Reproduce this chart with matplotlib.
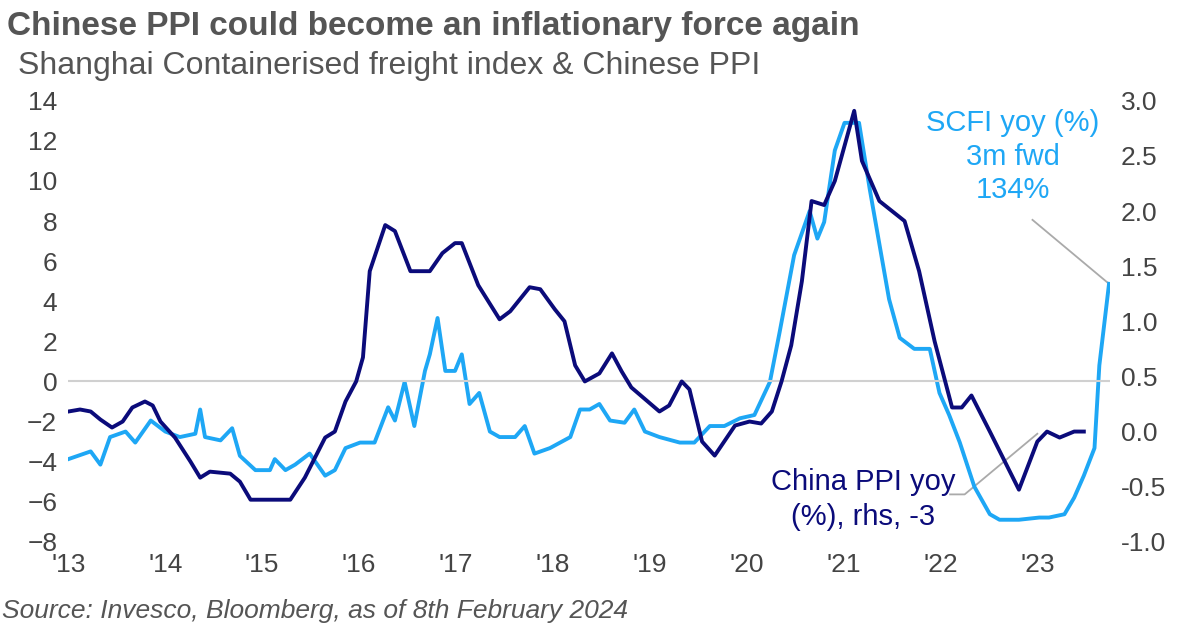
import matplotlib; matplotlib.use('Agg')
import matplotlib.pyplot as plt

C_DARK = '#0b0b7a'; C_LIGHT = '#1ea7f5'; C_GREY = '#555555'

# China PPI yoy (%) - left axis; dates as decimal years
ppi_t = [2013.00, 2013.12, 2013.23, 2013.33, 2013.45, 2013.56, 2013.66, 2013.79, 2013.87,
         2013.95, 2014.10, 2014.26, 2014.36, 2014.46, 2014.67, 2014.77, 2014.88, 2015.08,
         2015.29, 2015.44, 2015.65, 2015.75, 2015.86, 2015.97, 2016.04, 2016.11, 2016.27,
         2016.37, 2016.53, 2016.73, 2016.86, 2016.99, 2017.06, 2017.23, 2017.45, 2017.56,
         2017.76, 2017.87, 2018.02, 2018.12, 2018.23, 2018.33, 2018.48, 2018.61, 2018.71,
         2018.81, 2019.10, 2019.20, 2019.33, 2019.41, 2019.54, 2019.67, 2019.88, 2020.03,
         2020.15, 2020.26, 2020.36, 2020.46, 2020.57, 2020.67, 2020.80, 2020.91, 2021.11,
         2021.19, 2021.37, 2021.63, 2021.78, 2021.94, 2022.12, 2022.22, 2022.32, 2022.51,
         2022.81, 2023.00, 2023.10, 2023.23, 2023.38, 2023.48]
ppi_v = [-1.5, -1.4, -1.5, -1.9, -2.3, -2.0, -1.3, -1.0, -1.2,
         -2.0, -2.8, -4.0, -4.8, -4.5, -4.6, -5.0, -5.9, -5.9,
         -5.9, -4.8, -2.8, -2.5, -1.0, 0.0, 1.2, 5.5, 7.8,
         7.5, 5.5, 5.5, 6.4, 6.9, 6.9, 4.8, 3.1, 3.5,
         4.7, 4.6, 3.6, 3.0, 0.8, 0.0, 0.4, 1.4, 0.5,
         -0.3, -1.5, -1.2, 0.0, -0.4, -3.0, -3.7, -2.2, -2.0,
         -2.1, -1.5, 0.0, 1.8, 5.0, 9.0, 8.8, 10.0, 13.5,
         11.0, 9.0, 8.0, 5.5, 2.0, -1.3, -1.3, -0.7, -2.5,
         -5.4, -3.0, -2.5, -2.8, -2.5, -2.5]

# SCFI yoy (x100 %), 3m fwd - right axis
scfi_t = [2013.00, 2013.23, 2013.33, 2013.43, 2013.59, 2013.69, 2013.85, 2014.00, 2014.15,
          2014.31, 2014.36, 2014.41, 2014.57, 2014.69, 2014.77, 2014.93, 2015.08, 2015.13,
          2015.24, 2015.34, 2015.49, 2015.65, 2015.75, 2015.86, 2016.01, 2016.16, 2016.30,
          2016.37, 2016.47, 2016.57, 2016.68, 2016.73, 2016.81, 2016.89, 2016.99, 2017.06,
          2017.14, 2017.24, 2017.35, 2017.45, 2017.61, 2017.71, 2017.81, 2017.97, 2018.18,
          2018.28, 2018.38, 2018.48, 2018.59, 2018.74, 2018.84, 2018.95, 2019.10, 2019.31,
          2019.46, 2019.62, 2019.77, 2019.93, 2020.08, 2020.24, 2020.34, 2020.49, 2020.65,
          2020.73, 2020.80, 2020.91, 2021.01, 2021.16, 2021.27, 2021.37, 2021.47, 2021.58,
          2021.73, 2021.89, 2021.99, 2022.09, 2022.20, 2022.35, 2022.51, 2022.61, 2022.81,
          2023.02, 2023.12, 2023.28, 2023.38, 2023.48, 2023.59, 2023.64, 2023.74]
scfi_v = [-0.25, -0.18, -0.3, -0.05, 0.0, -0.1, 0.1, 0.0, -0.05,
          -0.02, 0.2, -0.05, -0.08, 0.03, -0.22, -0.35, -0.35, -0.25,
          -0.35, -0.3, -0.2, -0.4, -0.35, -0.15, -0.1, -0.1, 0.22,
          0.1, 0.45, 0.05, 0.55, 0.7, 1.03, 0.55, 0.55, 0.7,
          0.25, 0.35, 0.0, -0.05, -0.05, 0.05, -0.2, -0.15, -0.05,
          0.2, 0.2, 0.25, 0.1, 0.08, 0.2, 0.0, -0.05, -0.1,
          -0.1, 0.05, 0.05, 0.12, 0.15, 0.45, 0.9, 1.6, 2.0,
          1.75, 1.9, 2.55, 2.8, 2.8, 2.2, 1.7, 1.2, 0.85,
          0.75, 0.75, 0.35, 0.15, -0.1, -0.5, -0.75, -0.8, -0.8,
          -0.78, -0.78, -0.75, -0.6, -0.4, -0.15, 0.6, 1.34]

years = list(range(2013, 2024))
year_labels = ["'%02d" % (y - 2000) for y in years]

plt.rcParams['font.family'] = ['Liberation Sans', 'DejaVu Sans']
fig = plt.figure(figsize=(12, 6.3), dpi=100)
ax = fig.add_axes([0.057, 0.14, 0.868, 0.70])
ax2 = ax.twinx()

ax.axhline(0, color='#d0d0d0', lw=1.5, zorder=0)
ax.plot(ppi_t, ppi_v, color=C_DARK, lw=2.8, zorder=3)
ax2.plot(scfi_t, scfi_v, color=C_LIGHT, lw=2.8, zorder=2)
ax.set_zorder(ax2.get_zorder() + 1); ax.patch.set_visible(False)

ax.set_xlim(2013.0, 2023.75)
ax.set_ylim(-8, 14); ax2.set_ylim(-1.0, 3.0)
ax.set_yticks(range(-8, 15, 2))
ax2.set_yticks([-1.0, -0.5, 0.0, 0.5, 1.0, 1.5, 2.0, 2.5, 3.0])
ax2.set_yticklabels(['%.1f' % v for v in ax2.get_yticks()])
ax.set_xticks(years); ax.set_xticklabels(year_labels)
for a in (ax, ax2):
    a.tick_params(length=0, labelsize=19, colors='#444444', pad=8)
    for s in a.spines.values():
        s.set_visible(False)

# annotations
ax2.plot([2023.0, 2022.25, 2022.1], [-0.02, -0.57, -0.57], color='#aaaaaa', lw=1.3, zorder=1)
ax2.plot([2023.74, 2022.95], [1.34, 1.92], color='#aaaaaa', lw=1.3, zorder=1)
ax.text(2022.75, 11.2, 'SCFI yoy (%)\n3m fwd\n134%', color=C_LIGHT, fontsize=21,
        ha='center', va='center', linespacing=1.25)
ax.text(2021.2, -5.9, 'China PPI yoy\n(%), rhs, -3', color=C_DARK, fontsize=21,
        ha='center', va='center', linespacing=1.3)

fig.text(0.006, 0.958, 'Chinese PPI could become an inflationary force again',
         fontsize=24, fontweight='bold', color=C_GREY, va='center')
fig.text(0.015, 0.895, 'Shanghai Containerised freight index & Chinese PPI',
         fontsize=23, color=C_GREY, va='center')
fig.text(0.002, 0.03, 'Source: Invesco, Bloomberg, as of 8th February 2024',
         fontsize=19, style='italic', color=C_GREY, va='center')

plt.savefig('out.png', dpi=100)
